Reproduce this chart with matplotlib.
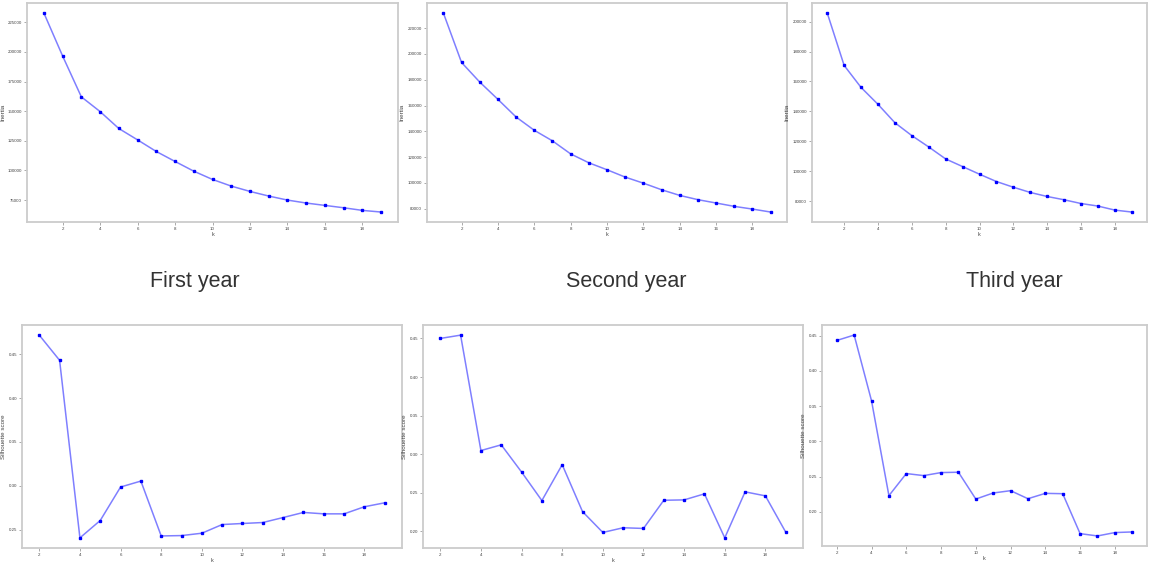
import matplotlib.pyplot as plt
from matplotlib.ticker import MultipleLocator, FormatStrFormatter

# elbow data, k = 1..19
k_inertia = list(range(1, 20))
inertia_y1 = [232900, 196600, 162100, 149700, 135400, 125800, 116000, 107600, 99400, 92400,
              86800, 82300, 78400, 75000, 72500, 70500, 68500, 66300, 64900]
inertia_y2 = [231800, 193400, 178200, 164800, 151100, 140800, 132600, 122500, 115600, 110200,
              104500, 99800, 94700, 90300, 87000, 84400, 81800, 79700, 77400]
inertia_y3 = [205800, 170700, 156000, 144700, 132400, 123800, 116200, 108200, 103100, 98000,
              93100, 89300, 85800, 83100, 80900, 78400, 76700, 74000, 72700]

# silhouette data, k = 2..19
k_sil = list(range(2, 20))
sil_y1 = [0.4718, 0.4431, 0.2405, 0.2603, 0.2985, 0.3053, 0.2427, 0.2431, 0.2458, 0.2557,
          0.2569, 0.2580, 0.2637, 0.2695, 0.2679, 0.2679, 0.2760, 0.2805]
sil_y2 = [0.4500, 0.4543, 0.3048, 0.3122, 0.2770, 0.2400, 0.2865, 0.2257, 0.1987, 0.2048,
          0.2039, 0.2404, 0.2409, 0.2487, 0.1917, 0.2513, 0.2461, 0.1991]
sil_y3 = [0.4433, 0.4510, 0.3576, 0.2229, 0.2543, 0.2514, 0.2557, 0.2562, 0.2181, 0.2267,
          0.2300, 0.2186, 0.2262, 0.2257, 0.1690, 0.1657, 0.1705, 0.1714]

years = ["First year", "Second year", "Third year"]

W, H = 1150, 562
fig = plt.figure(figsize=(W / 100, H / 100), dpi=100)
plt.rcParams['font.family'] = ['Liberation Sans', 'DejaVu Sans']


def box(l, t, r, b):
    return [l / W, 1 - b / H, (r - l) / W, (b - t) / H]


def panel(rect, x, y, ylab, ystep, fmt):
    ax = fig.add_axes(box(*rect))
    ax.plot(x, y, color="blue", alpha=0.5, lw=1.1)
    ax.plot(x, y, "s", color="blue", ms=2.0, mec="blue")
    ax.set_xticks(range(2, 20, 2))
    ax.yaxis.set_major_locator(MultipleLocator(ystep))
    ax.yaxis.set_major_formatter(FormatStrFormatter(fmt))
    ax.tick_params(labelsize=3.2, length=2, width=0.5, color="#888888",
                   labelcolor="#444444", pad=1.5)
    ax.set_xlabel("k", fontsize=4, color="#444444", labelpad=1)
    ax.set_ylabel(ylab, fontsize=4.5, color="#444444", labelpad=2)
    for s in ax.spines.values():
        s.set_color("#cccccc")
        s.set_linewidth(1.3)
    return ax


panel((27, 3, 398, 222), k_inertia, inertia_y1, "Inertia", 25000, "%d")
panel((427, 3, 787, 222), k_inertia, inertia_y2, "Inertia", 20000, "%d")
panel((812, 3, 1147, 222), k_inertia, inertia_y3, "Inertia", 20000, "%d")

panel((22, 325, 402, 548), k_sil, sil_y1, "Silhouette score", 0.05, "%.2f")
panel((423, 325, 803, 548), k_sil, sil_y2, "Silhouette score", 0.05, "%.2f")
panel((822, 325, 1147, 546), k_sil, sil_y3, "Silhouette score", 0.05, "%.2f")

for xc, name in zip([195, 626, 1014], years):
    fig.text(xc / W, 1 - 282 / H, name, fontsize=15.5, color="#333333",
             ha="center", va="center")

fig.savefig("out.png", dpi=100)
